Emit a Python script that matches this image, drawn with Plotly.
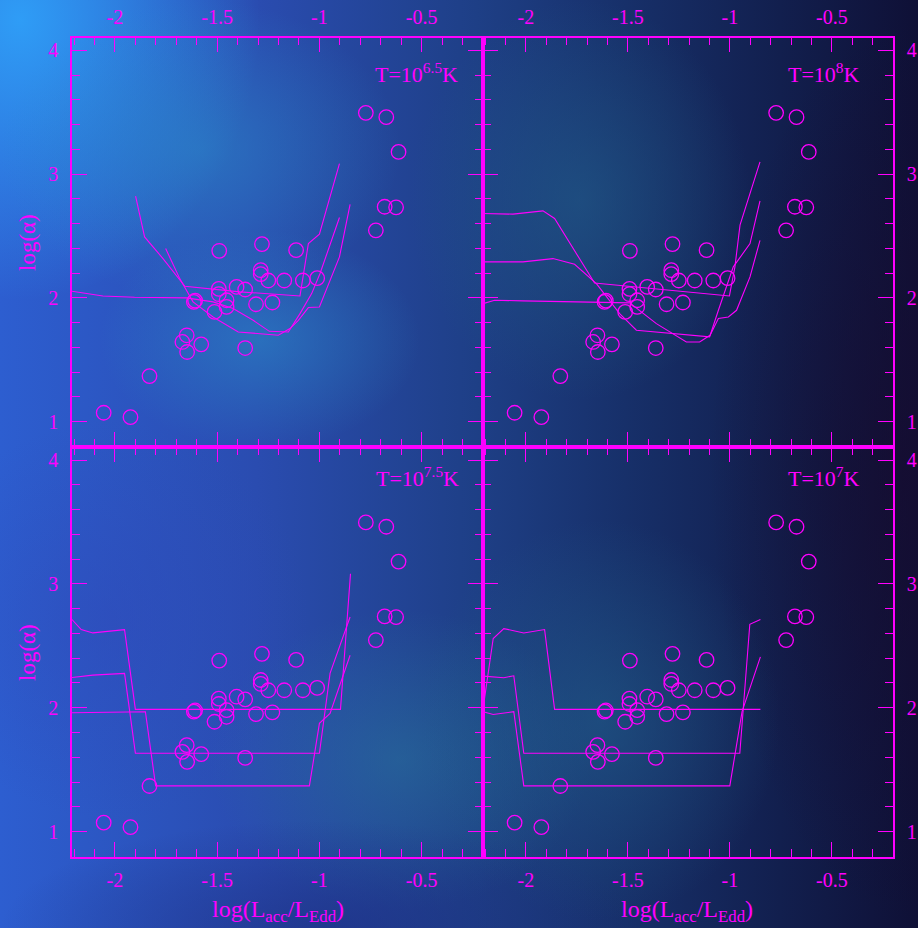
import base64
import plotly.graph_objects as go

# ---------------- data ----------------
# observed points: log(L_acc/L_Edd) and log(alpha)
obs_log_lacc = [-2.055, -1.924, -1.831, -1.649, -1.670, -1.647, -1.578, -1.614, -1.608,
                -1.490, -1.492, -1.492, -1.405, -1.363, -1.454, -1.454, -1.513, -1.310,
                -1.230, -1.363, -1.281, -1.114, -1.287, -1.287, -1.250, -1.172, -1.081,
                -1.011, -0.773, -0.673, -0.613, -0.681, -0.625, -0.724]
obs_log_alpha = [1.072, 1.036, 1.368, 1.698, 1.644, 1.563, 1.625, 1.968, 1.978,
                 2.381, 2.073, 2.030, 2.089, 2.068, 1.981, 1.927, 1.887, 1.949,
                 1.963, 1.595, 2.435, 2.386, 2.224, 2.192, 2.141, 2.141, 2.141,
                 2.160, 3.496, 3.461, 3.180, 2.737, 2.732, 2.546]

# model curves, T = 10^6.5 K
t65_c1_x = [-1.899, -1.855, -1.765, -1.658, -1.389, -1.095, -1.054, -1.000, -0.902]
t65_c1_y = [2.822, 2.493, 2.318, 2.094, 2.049, 2.016, 2.439, 2.515, 3.086]
t65_c2_x = [-1.752, -1.683, -1.618, -1.520, -1.397, -1.258, -1.201, -1.144, -1.103, -1.054, -1.000, -0.902, -0.850]
t65_c2_y = [2.399, 2.156, 1.968, 1.846, 1.725, 1.704, 1.698, 1.752, 1.819, 1.922, 1.927, 2.332, 2.757]
t65_c3_x = [-2.21, -2.059, -1.904, -1.650, -1.520, -1.422, -1.324, -1.245, -1.152, -1.095, -1.038, -0.997, -0.902]
t65_c3_y = [2.054, 2.016, 2.005, 2.000, 1.968, 1.914, 1.819, 1.730, 1.725, 1.873, 2.035, 2.197, 2.650]

# model curves, T = 10^8 K
t8_c1_x = [-2.21, -2.063, -1.916, -1.859, -1.663, -1.002, -0.975, -0.950, -0.852]
t8_c1_y = [2.682, 2.677, 2.704, 2.642, 2.121, 2.016, 2.251, 2.588, 3.100]
t8_c2_x = [-2.21, -2.014, -1.867, -1.761, -1.654, -1.540, -1.458, -1.295, -1.099, -1.056, -0.983, -0.901, -0.852]
t8_c2_y = [2.291, 2.291, 2.318, 2.272, 2.116, 1.873, 1.739, 1.712, 1.685, 1.900, 2.251, 2.439, 2.784]
t8_c3_x = [-2.21, -2.153, -2.014, -1.491, -1.360, -1.213, -1.148, -1.097, -1.056, -1.007, -0.967, -0.901, -0.852]
t8_c3_y = [1.954, 1.981, 1.976, 1.960, 1.792, 1.644, 1.644, 1.698, 1.833, 1.846, 1.900, 2.170, 2.466]

# model curves, T = 10^7.5 K
t75_c1_x = [-2.21, -2.165, -2.108, -1.953, -1.900, -0.897, -0.848]
t75_c1_y = [2.712, 2.631, 2.604, 2.631, 1.987, 1.987, 3.082]
t75_c2_x = [-2.21, -2.108, -1.953, -1.900, -1.000, -0.948, -0.850]
t75_c2_y = [2.244, 2.263, 2.277, 1.632, 1.632, 2.277, 2.733]
t75_c3_x = [-2.21, -1.851, -1.801, -1.049, -1.000, -0.948, -0.850]
t75_c3_y = [1.960, 1.968, 1.369, 1.369, 1.874, 1.954, 2.424]

# model curves, T = 10^7 K
t7_c1_x = [-2.206, -2.160, -2.108, -2.010, -1.908, -1.859, -0.850]
t7_c1_y = [2.035, 2.559, 2.639, 2.604, 2.631, 1.987, 1.987]
t7_c2_x = [-2.209, -2.108, -2.059, -2.010, -0.951, -0.902, -0.850]
t7_c2_y = [2.255, 2.242, 2.258, 1.632, 1.632, 2.674, 2.712]
t7_c3_x = [-2.209, -2.160, -2.059, -2.010, -1.000, -0.940, -0.850]
t7_c3_y = [1.968, 1.946, 1.968, 1.369, 1.369, 1.968, 2.411]

panel_labels = ["T=10<sup>6.5</sup>K", "T=10<sup>8</sup>K", "T=10<sup>7.5</sup>K", "T=10<sup>7</sup>K"]
x_tick_vals = [-2, -1.5, -1, -0.5]
x_tick_text = ["-2", "-1.5", "-1", "-0.5"]
y_tick_vals = [1, 2, 3, 4]
y_tick_text = ["1", "2", "3", "4"]
x_title = "log(L<sub>acc</sub>/L<sub>Edd</sub>)"
y_title = "log(\u03b1)"

# ---------------- style ----------------
MAG = "#ff00ff"
FONT = "Liberation Serif"
W, H = 918, 928
X_RANGE = [-2.21, -0.2]
Y_RANGE = [0.795, 4.105]

def px(x):
    return x / W

def py(y):
    return 1 - y / H

XL = [px(72), px(483)]
XR = [px(483), px(893)]
YT = [py(447), py(37.5)]
YB = [py(857), py(447)]

# background (nebula-like) as an SVG gradient image
svg = f'''<svg xmlns="http://www.w3.org/2000/svg" width="{W}" height="{H}" viewBox="0 0 {W} {H}" preserveAspectRatio="none">
<defs>
<linearGradient id="base" x1="0" y1="0" x2="1" y2="0">
<stop offset="0" stop-color="#2d5ed0"/>
<stop offset="0.28" stop-color="#2a4cb0"/>
<stop offset="0.52" stop-color="#1e3f86"/>
<stop offset="0.68" stop-color="#17306a"/>
<stop offset="0.85" stop-color="#121f4e"/>
<stop offset="1" stop-color="#0f1036"/>
</linearGradient>
<radialGradient id="r1"><stop offset="0" stop-color="#2fa0f8" stop-opacity="0.95"/><stop offset="1" stop-color="#2fa0f8" stop-opacity="0"/></radialGradient>
<radialGradient id="r2"><stop offset="0" stop-color="#2a8cc8" stop-opacity="0.55"/><stop offset="1" stop-color="#2a8cc8" stop-opacity="0"/></radialGradient>
<radialGradient id="r3"><stop offset="0" stop-color="#215c88" stop-opacity="0.6"/><stop offset="1" stop-color="#215c88" stop-opacity="0"/></radialGradient>
<radialGradient id="r4"><stop offset="0" stop-color="#2a7e9c" stop-opacity="0.45"/><stop offset="1" stop-color="#2a7e9c" stop-opacity="0"/></radialGradient>
<radialGradient id="r5"><stop offset="0" stop-color="#2f48b8" stop-opacity="0.5"/><stop offset="1" stop-color="#2f48b8" stop-opacity="0"/></radialGradient>
<radialGradient id="r6"><stop offset="0" stop-color="#170c30" stop-opacity="0.7"/><stop offset="1" stop-color="#170c30" stop-opacity="0"/></radialGradient>
<radialGradient id="r7"><stop offset="0" stop-color="#1c2c80" stop-opacity="0.6"/><stop offset="1" stop-color="#1c2c80" stop-opacity="0"/></radialGradient>
</defs>
<rect x="0" y="0" width="{W}" height="{H}" fill="url(#base)"/>
<ellipse cx="20" cy="20" rx="240" ry="280" fill="url(#r1)"/>
<ellipse cx="200" cy="150" rx="200" ry="150" fill="url(#r2)"/>
<ellipse cx="260" cy="340" rx="160" ry="110" fill="url(#r2)"/>
<ellipse cx="580" cy="200" rx="170" ry="200" fill="url(#r3)"/>
<ellipse cx="400" cy="760" rx="190" ry="150" fill="url(#r4)"/>
<ellipse cx="110" cy="620" rx="200" ry="200" fill="url(#r5)"/>
<ellipse cx="600" cy="720" rx="180" ry="200" fill="url(#r3)"/>
<ellipse cx="910" cy="470" rx="200" ry="450" fill="url(#r6)"/>
<ellipse cx="320" cy="930" rx="320" ry="110" fill="url(#r7)"/>
</svg>'''
bg_src = "data:image/svg+xml;base64," + base64.b64encode(svg.encode()).decode()

fig = go.Figure()

panels = [
    ("x", "y", [(t65_c1_x, t65_c1_y), (t65_c2_x, t65_c2_y), (t65_c3_x, t65_c3_y)]),
    ("x2", "y2", [(t8_c1_x, t8_c1_y), (t8_c2_x, t8_c2_y), (t8_c3_x, t8_c3_y)]),
    ("x3", "y3", [(t75_c1_x, t75_c1_y), (t75_c2_x, t75_c2_y), (t75_c3_x, t75_c3_y)]),
    ("x4", "y4", [(t7_c1_x, t7_c1_y), (t7_c2_x, t7_c2_y), (t7_c3_x, t7_c3_y)]),
]

for xa, ya, curves in panels:
    for cx, cy in curves:
        fig.add_trace(go.Scatter(x=cx, y=cy, mode="lines", xaxis=xa, yaxis=ya,
                                 line=dict(color=MAG, width=1.1), showlegend=False,
                                 hoverinfo="skip"))
    fig.add_trace(go.Scatter(x=obs_log_lacc, y=obs_log_alpha, mode="markers",
                             xaxis=xa, yaxis=ya, showlegend=False,
                             marker=dict(symbol="circle-open", size=14.5, color=MAG,
                                         line=dict(color=MAG, width=1.3))))


def xaxis(domain, side, anchor):
    return dict(domain=domain, range=X_RANGE, side=side, anchor=anchor,
                showgrid=False, zeroline=False, showline=True, linecolor=MAG, linewidth=1.6,
                mirror="allticks", ticks="inside", ticklen=15, tickwidth=1.4, tickcolor=MAG,
                tickvals=x_tick_vals, ticktext=x_tick_text, ticklabelstandoff=4,
                tickfont=dict(family=FONT, size=20, color=MAG),
                minor=dict(tick0=0, dtick=0.1, ticks="inside", ticklen=8, tickwidth=1.2,
                           tickcolor=MAG, showgrid=False))


def yaxis(domain, side, anchor):
    return dict(domain=domain, range=Y_RANGE, side=side, anchor=anchor,
                showgrid=False, zeroline=False, showline=True, linecolor=MAG, linewidth=1.6,
                mirror="allticks", ticks="inside", ticklen=15, tickwidth=1.4, tickcolor=MAG,
                tickvals=y_tick_vals, ticktext=y_tick_text, ticklabelstandoff=8,
                tickfont=dict(family=FONT, size=20, color=MAG),
                minor=dict(tick0=0, dtick=0.2, ticks="inside", ticklen=8, tickwidth=1.2,
                           tickcolor=MAG, showgrid=False))


annotations = []
label_pos = [(416, 73), (824, 73), (417, 477), (824, 477)]
for text, (lx, ly) in zip(panel_labels, label_pos):
    annotations.append(dict(text=text, x=px(lx), y=py(ly), xref="paper", yref="paper",
                            xanchor="center", yanchor="middle", showarrow=False,
                            font=dict(family=FONT, size=22, color=MAG)))
for yy in (243, 653):
    annotations.append(dict(text=y_title, x=px(27), y=py(yy), xref="paper", yref="paper",
                            textangle=-90, xanchor="center", yanchor="middle", showarrow=False,
                            font=dict(family=FONT, size=23, color=MAG)))
for xx in (278, 687):
    annotations.append(dict(text=x_title, x=px(xx), y=py(911), xref="paper", yref="paper",
                            xanchor="center", yanchor="middle", showarrow=False,
                            font=dict(family=FONT, size=24, color=MAG)))

fig.update_layout(
    width=W, height=H,
    margin=dict(l=0, r=0, t=0, b=0),
    paper_bgcolor="#1f3a8a",
    plot_bgcolor="rgba(0,0,0,0)",
    showlegend=False,
    xaxis=xaxis(XL, "top", "y"),
    yaxis=yaxis(YT, "left", "x"),
    xaxis2=xaxis(XR, "top", "y2"),
    yaxis2=yaxis(YT, "right", "x2"),
    xaxis3=xaxis(XL, "bottom", "y3"),
    yaxis3=yaxis(YB, "left", "x3"),
    xaxis4=xaxis(XR, "bottom", "y4"),
    yaxis4=yaxis(YB, "right", "x4"),
    annotations=annotations,
    images=[dict(source=bg_src, xref="paper", yref="paper", x=0, y=1, sizex=1, sizey=1,
                 xanchor="left", yanchor="top", sizing="stretch", layer="below")],
)

fig.write_html("out.html",
               config={"displayModeBar": False},
               post_script="document.body.style.margin='0';document.body.style.padding='0';"
                           "document.body.style.overflow='hidden';")
